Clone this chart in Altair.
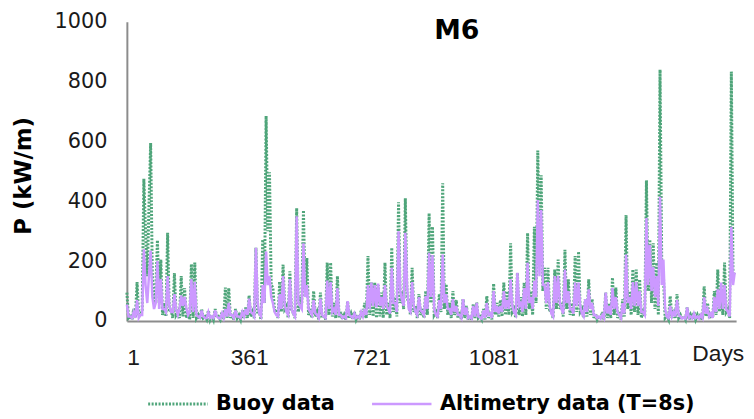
import altair as alt
import pandas as pd

# Samples read every 10 days (local highs) and the lows between them (5 days later)
days_a = list(range(1, 1792, 10))
days_b = list(range(6, 1787, 10))

buoy_a = [
    95, 15, 40, 130, 25, 475, 150, 595, 60, 270,
    205, 60, 295, 40, 160, 30, 150, 110, 30, 190,
    195, 20, 40, 15, 35, 20, 40, 15, 30, 112,
    110, 25, 40, 20, 35, 45, 85, 30, 245, 30,
    272, 685, 497, 112, 40, 132, 189, 50, 166, 30,
    377, 80, 370, 210, 40, 100, 30, 95, 20, 195,
    195, 60, 150, 30, 20, 66, 25, 30, 20, 35,
    60, 217, 130, 128, 120, 95, 195, 60, 245, 80,
    397, 100, 410, 60, 178, 50, 90, 40, 100, 360,
    315, 30, 90, 460, 123, 60, 100, 70, 30, 73,
    50, 20, 55, 62, 15, 40, 83, 30, 125, 60,
    70, 128, 100, 260, 40, 161, 80, 128, 294, 100,
    315, 570, 487, 178, 178, 40, 172, 205, 60, 238,
    139, 60, 217, 232, 40, 73, 139, 73, 25, 17,
    30, 95, 60, 145, 112, 30, 73, 354, 100, 172,
    172, 139, 40, 470, 272, 260, 195, 840, 150, 17,
    83, 40, 90, 20, 17, 45, 20, 30, 20, 25,
    116, 60, 30, 100, 172, 90, 195, 40, 834, 160,
]
buoy_b = [
    10, 5, 10, 15, 30, 300, 380, 150, 100, 60,
    20, 15, 30, 10, 20, 10, 15, 10, 5, 10,
    10, 5, 10, 5, 5, 5, 10, 5, 5, 10,
    10, 5, 10, 5, 10, 10, 15, 10, 30, 5,
    60, 300, 120, 30, 10, 30, 40, 10, 30, 10,
    30, 60, 80, 20, 10, 15, 5, 10, 5, 20,
    15, 10, 10, 5, 5, 10, 5, 5, 5, 10,
    10, 20, 15, 10, 15, 10, 20, 10, 30, 15,
    60, 40, 80, 20, 30, 10, 20, 10, 20, 60,
    20, 10, 30, 40, 20, 10, 20, 10, 5, 10,
    5, 5, 10, 10, 5, 5, 10, 5, 20, 15,
    15, 20, 20, 30, 10, 20, 15, 20, 40, 20,
    60, 250, 100, 40, 30, 10, 40, 40, 15, 40,
    20, 15, 30, 30, 10, 15, 20, 10, 5, 5,
    5, 10, 10, 20, 10, 5, 15, 40, 20, 30,
    20, 10, 15, 100, 60, 40, 20, 200, 10, 5,
    10, 10, 10, 5, 5, 5, 5, 5, 5, 5,
    15, 10, 10, 20, 30, 20, 30, 10, 150,
]

altimetry_a = [
    55, 15, 30, 70, 20, 240, 60, 235, 40, 200,
    140, 40, 150, 30, 90, 20, 85, 80, 20, 140,
    130, 15, 35, 10, 30, 15, 35, 10, 25, 40,
    60, 20, 35, 15, 30, 40, 75, 25, 245, 25,
    120, 232, 150, 60, 20, 90, 150, 30, 140, 25,
    350, 50, 260, 120, 30, 70, 20, 75, 15, 135,
    130, 40, 110, 20, 15, 66, 15, 25, 15, 30,
    40, 120, 128, 120, 125, 80, 120, 40, 178, 60,
    300, 70, 295, 40, 130, 30, 80, 30, 83, 228,
    220, 20, 70, 222, 90, 40, 73, 50, 20, 73,
    45, 15, 50, 60, 12, 35, 60, 25, 100, 50,
    50, 100, 70, 139, 30, 161, 60, 110, 195, 80,
    133, 404, 371, 120, 130, 25, 150, 150, 40, 172,
    100, 40, 128, 128, 25, 73, 106, 60, 20, 15,
    20, 95, 50, 110, 80, 20, 60, 222, 80, 130,
    130, 100, 30, 344, 255, 180, 150, 415, 205, 15,
    50, 30, 70, 15, 12, 45, 15, 25, 15, 20,
    80, 40, 25, 80, 106, 128, 120, 30, 315, 162,
]
altimetry_b = [
    15, 10, 10, 10, 20, 120, 150, 80, 60, 40,
    40, 30, 50, 30, 40, 40, 50, 45, 30, 30,
    20, 10, 15, 10, 10, 10, 15, 8, 10, 15,
    20, 10, 15, 10, 15, 20, 30, 15, 60, 15,
    60, 120, 80, 30, 15, 40, 50, 20, 40, 15,
    60, 40, 80, 40, 20, 25, 10, 20, 10, 40,
    30, 20, 20, 10, 10, 20, 10, 10, 10, 15,
    20, 40, 50, 45, 50, 40, 50, 25, 60, 30,
    100, 50, 120, 30, 50, 20, 35, 20, 40, 80,
    40, 15, 40, 60, 40, 20, 30, 20, 10, 20,
    10, 8, 15, 15, 8, 10, 20, 10, 30, 25,
    30, 40, 40, 50, 20, 50, 30, 40, 60, 40,
    80, 150, 120, 60, 50, 15, 60, 60, 25, 60,
    40, 25, 50, 50, 15, 30, 40, 20, 10, 8,
    10, 25, 20, 40, 30, 10, 25, 60, 40, 50,
    50, 30, 20, 120, 100, 80, 50, 120, 40, 10,
    15, 15, 20, 8, 8, 10, 8, 10, 8, 10,
    25, 15, 10, 30, 40, 40, 40, 15, 120,
]

series_names = ["Buoy data", "Altimetry data (T=8s)"]
series_colors = ["#4fa57a", "#cc99ff"]
x_ticks = [1, 361, 721, 1081, 1441]
y_ticks = [0, 200, 400, 600, 800, 1000]
chart_title = "M6"
x_end_label = "Days"
y_title = "P (kW/m)"

days = days_a + days_b
df = pd.DataFrame({
    "day": days + days,
    "P": buoy_a + buoy_b + altimetry_a + altimetry_b,
    "series": [series_names[0]] * len(days) + [series_names[1]] * len(days),
}).sort_values(["series", "day"])

x_enc = alt.X(
    "day:Q",
    scale=alt.Scale(domain=[1, 1795], nice=False, zero=False),
    axis=alt.Axis(values=x_ticks, format="d", title=None, ticks=False, grid=False,
                  labelFont="Liberation Sans", labelFontSize=23, labelColor="#1a1a1a",
                  labelPadding=26, domainColor="#8c8c8c", domainWidth=2),
)
y_enc = alt.Y(
    "P:Q",
    scale=alt.Scale(domain=[0, 1000], nice=False),
    axis=alt.Axis(values=y_ticks, format="d", title=y_title, ticks=False, grid=False,
                  labelFont="DejaVu Sans", labelFontSize=21, labelColor="#1a1a1a",
                  labelPadding=20, domainColor="#8c8c8c", domainWidth=2,
                  titleFont="DejaVu Sans", titleFontWeight="bold", titleFontSize=23,
                  titleColor="#000000", titleAngle=270, titleX=-104, titleY=155,
                  titleAlign="center", titleBaseline="middle"),
)
color_enc = alt.Color("series:N", scale=alt.Scale(domain=series_names, range=series_colors), title=None)
dash_enc = alt.StrokeDash("series:N", scale=alt.Scale(domain=series_names, range=[[2, 1.5], [1, 0]]), title=None)
width_enc = alt.StrokeWidth("series:N", scale=alt.Scale(domain=series_names, range=[3, 2.5]), title=None)

base = alt.Chart(df).mark_line().encode(
    x=x_enc, y=y_enc, color=color_enc, strokeDash=dash_enc, strokeWidth=width_enc,
    order="day:Q",
)
buoy_layer = base.transform_filter(alt.datum.series == series_names[0])
alt_layer = base.transform_filter(alt.datum.series == series_names[1])

title_text = alt.Chart(pd.DataFrame({"t": [chart_title]})).mark_text(
    font="DejaVu Sans", fontWeight="bold", fontSize=27, align="center", baseline="middle", color="#000000"
).encode(text="t:N", x=alt.value(333), y=alt.value(9))

days_text = alt.Chart(pd.DataFrame({"t": [x_end_label]})).mark_text(
    font="Liberation Sans", fontSize=23, align="center", baseline="middle", color="#1a1a1a"
).encode(text="t:N", x=alt.value(597), y=alt.value(335))

chart = alt.layer(buoy_layer, alt_layer, title_text, days_text).properties(
    width=615, height=302,
    autosize=alt.AutoSizeParams(type="none"),
    padding={"left": 120, "top": 12, "right": 10, "bottom": 96},
).configure_view(stroke=None).configure_legend(
    orient="none", legendX=20, legendY=354, direction="horizontal",
    symbolType="stroke", symbolSize=3600, labelFont="DejaVu Sans", labelFontWeight="bold",
    labelFontSize=21, labelColor="#000000", columnPadding=32, labelOffset=7, padding=0,
    labelLimit=400,
)

chart.save("out.html", embed_options={"renderer": "svg", "actions": False})
